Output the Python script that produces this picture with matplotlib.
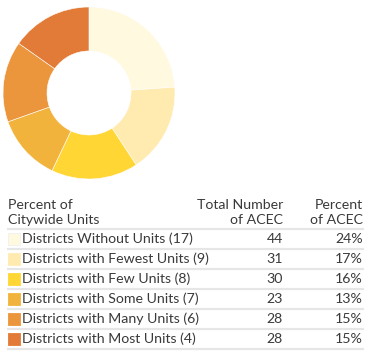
import matplotlib.pyplot as plt

# data
labels = ["Districts Without Units (17)", "Districts with Fewest Units (9)",
          "Districts with Few Units (8)", "Districts with Some Units (7)",
          "Districts with Many Units (6)", "Districts with Most Units (4)"]
acec_total = [44, 31, 30, 23, 28, 28]
acec_pct = ["24%", "17%", "16%", "13%", "15%", "15%"]
colors = ["#FFF9E0", "#FFEBB0", "#FFD633", "#F2B33D", "#EB963D", "#E37B38"]

W, H = 371, 357
fig = plt.figure(figsize=(W / 100, H / 100), dpi=100)
ax = fig.add_axes([0, 0, 1, 1])
ax.set_xlim(0, W)
ax.set_ylim(0, H)
ax.set_aspect("equal")
ax.axis("off")

# donut
ax.pie(acec_total, colors=colors, center=(89, H - 93), radius=86,
       startangle=90, counterclock=False,
       wedgeprops=dict(width=44, edgecolor="white", linewidth=0.4))
ax.set_xlim(0, W)
ax.set_ylim(0, H)

txt = "#3a3a3a"
fs = 10.2
font = "Lato"

# header
ax.text(8, H - 205, "Percent of", fontsize=fs, color=txt, family=font, va="center")
ax.text(8, H - 220, "Citywide Units", fontsize=fs, color=txt, family=font, va="center")
ax.text(283, H - 205, "Total Number", fontsize=fs, color=txt, family=font, va="center", ha="right")
ax.text(283, H - 220, "of ACEC", fontsize=fs, color=txt, family=font, va="center", ha="right")
ax.text(363, H - 205, "Percent", fontsize=fs, color=txt, family=font, va="center", ha="right")
ax.text(363, H - 220, "of ACEC", fontsize=fs, color=txt, family=font, va="center", ha="right")

line_col = "#e6e6e6"
ax.plot([7, 364], [H - 229, H - 229], color=line_col, lw=1.6, solid_capstyle="butt")
for i, (lab, tot, pct, c) in enumerate(zip(labels, acec_total, acec_pct, colors)):
    yc = H - (239 + 20 * i)
    ax.add_patch(plt.Rectangle((8, yc - 6), 12, 12, facecolor=c,
                               edgecolor="#f0f0f0" if i == 0 else c, lw=0.6))
    ax.text(22, yc, lab, fontsize=fs, color=txt, family=font, va="center")
    ax.text(283, yc, str(tot), fontsize=fs, color=txt, family=font, va="center", ha="right")
    ax.text(363, yc, pct, fontsize=fs, color=txt, family=font, va="center", ha="right")
    ax.plot([7, 364], [yc - 10, yc - 10], color=line_col, lw=1.6, solid_capstyle="butt")

fig.savefig("out.png", dpi=100)
